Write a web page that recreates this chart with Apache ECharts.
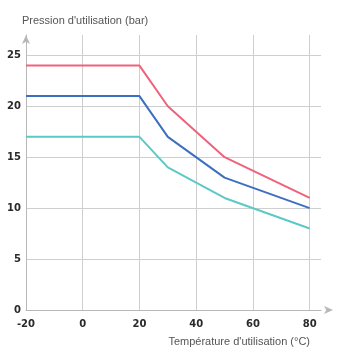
<!DOCTYPE html>
<html>
<head>
<meta charset="utf-8">
<script src="https://cdn.jsdelivr.net/npm/echarts@6/dist/echarts.min.js"></script>
<style>
html,body{margin:0;padding:0;background:#fff;}
#c{width:339px;height:353px;}
</style>
</head>
<body>
<div id="c"></div>
<script>
var temperatures = [-20, 20, 30, 50, 80];
var pressureRed = [24, 24, 20, 15, 11];
var pressureBlue = [21, 21, 17, 13, 10];
var pressureCyan = [17, 17, 14, 11, 8];
var xTicks = [-20, 0, 20, 40, 60, 80];
var yTicks = [0, 5, 10, 15, 20, 25];

function pairs(vals) { return temperatures.map(function (t, i) { return [t, vals[i]]; }); }

var chart = echarts.init(document.getElementById('c'), null, {renderer: 'canvas'});
var labelStyle = {fontFamily: 'DejaVu Sans', fontWeight: 'bold', fontSize: 10, color: '#2a2a2a'};
var nameFont = 'Liberation Sans Narrow, Arial Narrow, Liberation Sans, sans-serif';
chart.setOption({
  animation: false,
  grid: {left: 26, right: 18, top: 35, bottom: 43},
  xAxis: {
    type: 'value', min: -20, max: 84, interval: 20,
    name: "Température d'utilisation (°C)",
    nameLocation: 'end', nameGap: 0,
    nameTextStyle: {fontFamily: nameFont, fontSize: 11, color: '#555', align: 'right', verticalAlign: 'top', padding: [26, 11, 0, 0]},
    axisLine: {show: true, onZero: false, lineStyle: {color: '#b8b8b8', width: 1}, symbol: ['none', 'arrow'], symbolSize: [6, 9], symbolOffset: [0, 12]},
    axisTick: {show: false},
    axisLabel: Object.assign({margin: 9, showMaxLabel: false, formatter: function (v) { return xTicks.indexOf(v) >= 0 ? String(v) : ''; }}, labelStyle),
    splitLine: {show: true, showMaxLine: false, lineStyle: {color: '#cfcfcf', width: 1}}
  },
  yAxis: {
    type: 'value', min: 0, max: 27, interval: 5,
    name: "Pression d'utilisation (bar)",
    nameLocation: 'end', nameGap: 9,
    nameTextStyle: {fontFamily: nameFont, fontSize: 11, color: '#555', align: 'left', padding: [0, 0, 0, -4]},
    axisLine: {show: true, onZero: false, lineStyle: {color: '#b8b8b8', width: 1}, symbol: ['none', 'arrow'], symbolSize: [6, 9]},
    axisTick: {show: false},
    axisLabel: Object.assign({margin: 5, showMaxLabel: false, formatter: function (v) { return yTicks.indexOf(v) >= 0 ? String(v) : ''; }}, labelStyle),
    splitLine: {show: true, showMaxLine: false, lineStyle: {color: '#cfcfcf', width: 1}}
  },
  series: [
    {type: 'line', data: pairs(pressureRed), symbol: 'none', lineStyle: {color: '#f0627c', width: 2}},
    {type: 'line', data: pairs(pressureBlue), symbol: 'none', lineStyle: {color: '#3d6fc0', width: 2}},
    {type: 'line', data: pairs(pressureCyan), symbol: 'none', lineStyle: {color: '#5cc9c6', width: 2}}
  ]
});
</script>
</body>
</html>
